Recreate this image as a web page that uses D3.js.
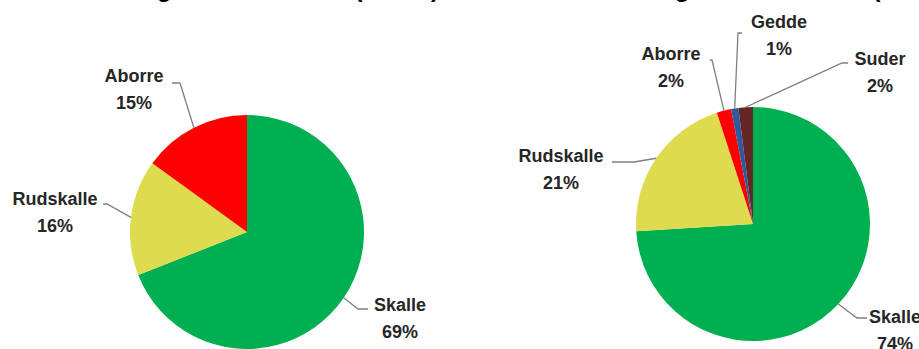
<!DOCTYPE html>
<html>
<head>
<meta charset="utf-8">
<script src="https://cdn.jsdelivr.net/npm/d3@7/dist/d3.min.js"></script>
<style>
  html, body { margin: 0; padding: 0; background: #fff; }
  svg { display: block; }
  text { font-family: "Liberation Sans", Arial, sans-serif; font-weight: bold; }
</style>
</head>
<body>
<div id="chart"></div>
<script>
// Species shares (percent), catch by number of individuals
const speciesLeft = ["Skalle", "Rudskalle", "Aborre"];
const valuesLeft  = [69, 16, 15];

// Species shares (percent), catch by biomass
const speciesRight = ["Skalle", "Rudskalle", "Aborre", "Gedde", "Suder"];
const valuesRight  = [74, 21, 2, 1, 2];

// Titles above each pie
const titles = ["Artsfordeling antall individer (n=139)", "Artsfordeling etter biomasse (n=139)"];

// Colour per species
const speciesColors = {
  Skalle: "#00B050",
  Rudskalle: "#DEDB4F",
  Aborre: "#FF0000",
  Gedde: "#2C5A9C",
  Suder: "#632826"
};

const W = 919, H = 349;
const R = 117;

// Label placement relative to each pie centre: text centre (tx, ty = first baseline)
// and the leader-line bend points (from the slice edge out to the text)
const layoutLeft = {
  center: [247, 232],
  labels: {
    Skalle:    { tx: 153, ty: 79,   pts: [[111, 77], [121, 77]] },
    Rudskalle: { tx: -192, ty: -27, pts: [[-140, -28], [-144, -28]] },
    Aborre:    { tx: -113, ty: -150, pts: [[-67, -149], [-75, -149]] }
  }
};
const layoutRight = {
  center: [753, 224],
  labels: {
    Skalle:    { tx: 142, ty: 99,   pts: [[104, 94], [114, 94]] },
    Rudskalle: { tx: -192, ty: -62, pts: [[-119, -62], [-141, -62]] },
    Aborre:    { tx: -82, ty: -164, pts: [[-41, -164], [-43, -164]] },
    Gedde:     { tx: 26, ty: -196,  pts: [[-15, -191], [-11, -191]] },
    Suder:     { tx: 127, ty: -159, pts: [[89, -161], [95, -161]] }
  }
};

const svg = d3.select("#chart").append("svg")
  .attr("width", W).attr("height", H);

// Titles sit mostly above the visible area
svg.append("text").attr("x", 21).attr("y", -3)
  .attr("font-size", 24).attr("fill", "#000").text(titles[0]);
svg.append("text").attr("x", 539).attr("y", -3)
  .attr("font-size", 24).attr("fill", "#000").text(titles[1]);

function drawPie(names, values, layout) {
  const data = names.map((n, i) => ({ name: n, value: values[i] }));
  const pie = d3.pie().value(d => d.value).sort(null);
  const arcs = pie(data);
  const arc = d3.arc().innerRadius(0).outerRadius(R);
  const edge = d3.arc().innerRadius(R).outerRadius(R);

  const [cx, cy] = layout.center;
  const g = svg.append("g").attr("transform", `translate(${cx},${cy})`);

  g.selectAll("path.slice").data(arcs).join("path")
    .attr("class", "slice")
    .attr("d", arc)
    .attr("fill", d => speciesColors[d.data.name]);

  // Leader lines from slice edge to labels
  g.selectAll("polyline").data(arcs).join("polyline")
    .attr("points", d => {
      const lab = layout.labels[d.data.name];
      return [edge.centroid(d), ...lab.pts].map(p => p.join(",")).join(" ");
    })
    .attr("fill", "none")
    .attr("stroke", "#7F7F7F")
    .attr("stroke-width", 1.3);

  const labels = g.selectAll("g.lab").data(arcs).join("g").attr("class", "lab");
  labels.append("text")
    .attr("x", d => layout.labels[d.data.name].tx)
    .attr("y", d => layout.labels[d.data.name].ty)
    .attr("text-anchor", "middle")
    .attr("font-size", 18)
    .attr("fill", "#262626")
    .text(d => d.data.name);
  labels.append("text")
    .attr("x", d => layout.labels[d.data.name].tx)
    .attr("y", d => layout.labels[d.data.name].ty + 26.5)
    .attr("text-anchor", "middle")
    .attr("font-size", 18)
    .attr("fill", "#262626")
    .text(d => d3.format(".0f")(d.data.value) + "%");
}

drawPie(speciesLeft, valuesLeft, layoutLeft);
drawPie(speciesRight, valuesRight, layoutRight);
</script>
</body>
</html>
